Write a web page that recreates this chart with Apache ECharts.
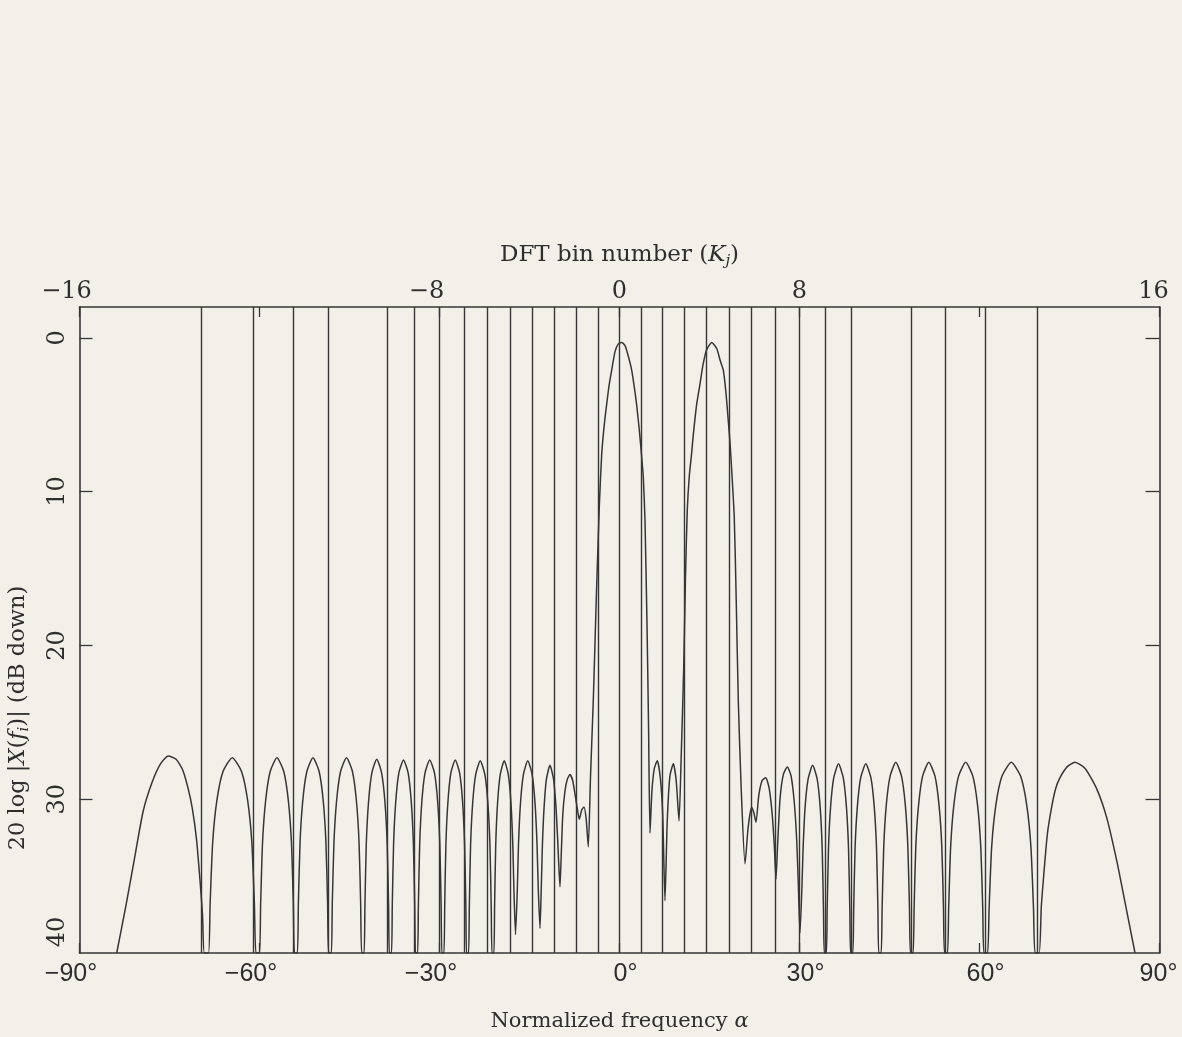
<!DOCTYPE html>
<html>
<head>
<meta charset="utf-8">
<title>DFT bin response</title>
<script src="https://cdn.jsdelivr.net/npm/echarts@6/dist/echarts.min.js"></script>
<style>
  html, body { margin: 0; padding: 0; background: #f3f0ea; }
  #chart { width: 1182px; height: 1037px; }
</style>
</head>
<body>
<div id="chart"></div>
<script>
// DFT bins drawn as vertical lines (bins 11 and -11 are not drawn in the figure)
var binNumbers = [-15, -14, -13, -12, -10, -9, -8, -7, -6, -5, -4, -3, -2, -1, 0,
  1, 2, 3, 4, 5, 6, 7, 8, 9, 10, 12, 13, 14, 15]
var binLabels = [-16, -8, 0, 8, 16]
var angleTicks = [-90, -60, -30, 0, 30, 60, 90]
var levelLabels = [0, 10, 20, 30, 40]
var levelTicks = [0, 10, 20, 30]

// response curve: angle (deg) and level (dB down)
var curveAngle = [
  -83.8, -82.3, -80.9, -79.4, -77.9, -76.5, -75.2, -73.9, -72.8, -71.9, -71.2, -70.5, -69.85, -69.5, -69.2,
  -68.49, -68.23, -67.80, -67.11, -66.08, -64.54, -63.00, -61.97, -61.28, -60.85, -60.59,
  -60.00, -59.81, -59.49, -58.98, -58.22, -57.09, -55.95, -55.19, -54.68, -54.36, -54.17,
  -53.69, -53.52, -53.24, -52.79, -52.11, -51.09, -50.06, -49.38, -48.93, -48.65, -48.48,
  -48.03, -47.87, -47.59, -47.15, -46.49, -45.50, -44.51, -43.85, -43.41, -43.14, -42.97,
  -42.57, -42.43, -42.20, -41.83, -41.28, -40.46, -39.64, -39.09, -38.72, -38.49, -38.35,
  -38.00, -37.87, -37.65, -37.30, -36.78, -36.00, -35.22, -34.70, -34.35, -34.13, -34.00,
  -33.65, -33.52, -33.30, -32.95, -32.42, -31.63, -30.83, -30.30, -29.95, -29.73, -29.60,
  -29.26, -29.13, -28.93, -28.60, -28.11, -27.38, -26.64, -26.15, -25.82, -25.61, -25.49,
  -25.16, -25.03, -24.82, -24.48, -23.97, -23.21, -22.44, -21.93, -21.59, -21.38, -21.25,
  -20.93, -20.82, -20.63, -20.33, -19.88, -19.21, -18.53, -18.08, -17.78, -17.59, -17.33,
  -17.04, -16.84, -16.51, -16.02, -15.29, -14.56, -14.07, -13.74, -13.54, -13.25,
  -13.02, -12.85, -12.58, -12.18, -11.59, -10.99, -10.59, -10.32, -10.15, -9.92,
  -9.70, -9.45, -9.10, -8.70, -8.25, -7.80, -7.40, -7.00, -6.70, -6.30, -5.92, -5.55, -5.20,
  -4.83, -4.37, -3.87, -3.37, -2.97, -2.55, -2.13, -1.70, -1.30, -0.75, -0.20, 0.37, 0.90, 1.40,
  2.03, 2.50, 2.87, 3.30, 3.71, 3.97, 4.25, 4.60, 4.85, 5.08,
  5.40, 5.80, 6.30, 6.80, 7.20, 7.58, 7.95, 8.40, 8.97, 9.45, 9.92,
  10.30, 10.70, 11.00, 11.30, 11.63, 12.00, 12.30, 12.87, 13.42, 13.90, 14.50, 15.37, 16.20, 16.80,
  17.30, 17.75, 18.13, 18.45, 18.70, 19.13, 19.45, 19.80, 20.30, 20.92,
  21.45, 22.03, 22.40, 22.75, 23.20, 23.75, 24.37, 24.95, 25.45, 25.80, 26.08,
  26.35, 26.75, 27.30, 27.97, 28.60, 29.15, 29.55, 29.80, 30.08,
  30.38, 30.59, 30.92, 31.43, 32.19, 32.95, 33.46, 33.79, 34.00, 34.13,
  34.48, 34.61, 34.83, 35.18, 35.71, 36.50, 37.29, 37.82, 38.17, 38.39, 38.52,
  38.89, 39.03, 39.26, 39.64, 40.20, 41.05, 41.90, 42.46, 42.84, 43.07, 43.21,
  43.61, 43.77, 44.04, 44.46, 45.10, 46.05, 47.00, 47.64, 48.06, 48.33, 48.49,
  48.93, 49.10, 49.38, 49.84, 50.52, 51.55, 52.58, 53.26, 53.72, 54.00, 54.17,
  54.66, 54.86, 55.19, 55.72, 56.51, 57.70, 58.89, 59.68, 60.21, 60.54, 60.74,
  61.34, 61.60, 62.03, 62.72, 63.75, 65.30, 66.85, 67.88, 68.57, 69.00, 69.26,
  69.95, 70.30, 70.63, 71.30, 72.03, 72.70, 73.42, 74.60, 75.90, 77.60, 79.50, 81.20, 82.87, 84.40, 85.92
]
var curveLevel = [
  40, 37.0, 34.0, 30.8, 28.9, 27.7, 27.2, 27.4, 28.1, 29.3, 30.6, 32.6, 35.6, 37.5, 40,
  40, 36.8, 32.8, 30.1, 28.2, 27.3, 28.2, 30.1, 32.8, 36.8, 40,
  40, 36.8, 32.8, 30.1, 28.2, 27.3, 28.2, 30.1, 32.8, 36.8, 40,
  40, 36.8, 32.8, 30.1, 28.2, 27.3, 28.2, 30.1, 32.8, 36.8, 40,
  40, 36.8, 32.8, 30.1, 28.2, 27.3, 28.2, 30.1, 32.8, 36.8, 40,
  40, 36.9, 32.9, 30.2, 28.3, 27.4, 28.3, 30.2, 32.9, 36.9, 40,
  40, 36.9, 32.9, 30.2, 28.3, 27.45, 28.3, 30.2, 32.9, 36.9, 40,
  40, 36.9, 32.9, 30.2, 28.3, 27.45, 28.3, 30.2, 32.9, 36.9, 40,
  40, 36.9, 32.9, 30.2, 28.3, 27.45, 28.3, 30.2, 32.9, 36.9, 40,
  40, 37.0, 33.0, 30.3, 28.4, 27.5, 28.4, 30.3, 33.0, 37.0, 40,
  40, 37.0, 33.0, 30.3, 28.4, 27.5, 28.4, 30.3, 33.0, 36.0, 38.8,
  36.0, 33.0, 30.3, 28.4, 27.5, 28.4, 30.3, 33.0, 35.8, 38.4,
  35.5, 33.0, 30.6, 28.7, 27.8, 28.7, 30.5, 32.5, 34.0, 35.7,
  33.5, 31.0, 29.5, 28.7, 28.4, 28.8, 29.7, 30.7, 31.3, 30.7, 30.5, 31.3, 33.1,
  28.5, 23.6, 17.0, 11.0, 7.6, 5.7, 4.3, 3.0, 2.1, 0.9, 0.4, 0.3, 0.5, 1.1,
  2.1, 3.3, 4.4, 6.0, 7.8, 9.1, 11.9, 19.0, 25.5, 32.2,
  29.5, 28.0, 27.5, 28.6, 31.0, 36.6, 31.5, 28.5, 27.7, 28.8, 31.4,
  27.0, 21.5, 15.5, 11.2, 9.0, 7.6, 6.3, 4.3, 3.0, 1.8, 0.8, 0.3, 0.7, 1.5,
  2.1, 3.6, 5.4, 7.0, 8.6, 11.7, 17.0, 23.6, 29.5, 34.2,
  31.8, 30.5, 30.9, 31.5, 29.8, 28.8, 28.6, 29.3, 31.0, 33.0, 35.2,
  33.0, 30.0, 28.4, 27.9, 28.5, 30.3, 32.8, 35.5, 38.7,
  36.0, 33.3, 30.6, 28.7, 27.8, 28.7, 30.6, 33.3, 37.3, 40,
  40, 37.2, 33.2, 30.5, 28.6, 27.7, 28.6, 30.5, 33.2, 37.2, 40,
  40, 37.2, 33.2, 30.5, 28.6, 27.7, 28.6, 30.5, 33.2, 37.2, 40,
  40, 37.1, 33.1, 30.4, 28.5, 27.6, 28.5, 30.4, 33.1, 37.1, 40,
  40, 37.1, 33.1, 30.4, 28.5, 27.6, 28.5, 30.4, 33.1, 37.1, 40,
  40, 37.1, 33.1, 30.4, 28.5, 27.6, 28.5, 30.4, 33.1, 37.1, 40,
  40, 37.1, 33.1, 30.4, 28.5, 27.6, 28.5, 30.4, 33.1, 37.1, 40,
  40, 37.0, 35.3, 32.3, 30.5, 29.3, 28.6, 27.9, 27.6, 28.0, 29.3, 31.2, 34.0, 37.0, 40
]

// bin k sits where sin(alpha) = k / 16
function binToAngle(k) {
  return Math.asin(k / 16) * 180 / Math.PI
}

var ink = '#363636'
var textInk = '#2e2e2e'
var serif = 'DejaVu Serif'
var sans = 'Liberation Sans'

var chart = echarts.init(document.getElementById('chart'))

chart.setOption({
  backgroundColor: '#f3f0ea',
  animation: false,
  grid: { left: 79.5, right: 22.5, top: 307, bottom: 84, containLabel: false, outerBoundsMode: 'none' },
  xAxis: [
    {
      type: 'value',
      min: -90,
      max: 90,
      interval: 30,
      axisLine: { onZero: false, lineStyle: { color: ink, width: 1.6 } },
      axisTick: { inside: true, length: 10, lineStyle: { color: ink, width: 1.3 } },
      splitLine: { show: false },
      axisLabel: {
        margin: 9,
        color: textInk,
        fontFamily: sans,
        fontSize: 25,
        formatter: function(v) {
          // digits sit centred on the tick, the minus and degree sign hang outside
          if (v < 0) return '{n|−' + Math.abs(v) + '°}'
          if (v === 90) return '{e|' + v + '°}'
          return '{p|' + v + '°}'
        },
        rich: {
          n: { fontFamily: sans, fontSize: 25, color: textInk, padding: [0, 17, 0, 0] },
          p: { fontFamily: sans, fontSize: 25, color: textInk, padding: [0, 0, 0, 12] },
          e: { fontFamily: sans, fontSize: 25, color: textInk, padding: [0, 2, 0, 0] }
        }
      },
      name: 'Normalized frequency {i|α}',
      nameLocation: 'middle',
      nameGap: 58,
      nameTextStyle: {
        fontFamily: serif,
        fontSize: 21,
        color: textInk,
        rich: { i: { fontFamily: serif, fontSize: 21, fontStyle: 'italic', color: textInk } }
      }
    },
    {
      type: 'value',
      position: 'top',
      min: -90,
      max: 90,
      axisLine: { onZero: false, lineStyle: { color: ink, width: 1.6 } },
      axisTick: {
        inside: true,
        length: 10,
        customValues: angleTicks,
        lineStyle: { color: ink, width: 1.3 }
      },
      splitLine: { show: false },
      axisLabel: {
        customValues: binLabels.map(binToAngle),
        margin: 3,
        color: textInk,
        fontFamily: serif,
        fontSize: 24,
        formatter: function(v) {
          var k = Math.round(16 * Math.sin(v * Math.PI / 180))
          if (k < 0) return '{n|−' + Math.abs(k) + '}'
          if (k === 16) return '{e|' + k + '}'
          return '{p|' + k + '}'
        },
        rich: {
          n: { fontFamily: serif, fontSize: 24, color: textInk, padding: [0, 26, 0, 0] },
          p: { fontFamily: serif, fontSize: 24, color: textInk },
          e: { fontFamily: serif, fontSize: 24, color: textInk, padding: [0, 12, 0, 0] }
        }
      },
      name: 'DFT bin number ({i|K}{s|j})',
      nameLocation: 'middle',
      nameGap: 38,
      nameTextStyle: {
        fontFamily: serif,
        fontSize: 23,
        color: textInk,
        rich: {
          i: { fontFamily: serif, fontSize: 23, fontStyle: 'italic', color: textInk },
          s: { fontFamily: serif, fontSize: 15, fontStyle: 'italic', color: textInk, padding: [12, 0, 0, 0] }
        }
      }
    }
  ],
  yAxis: [
    {
      type: 'value',
      inverse: true,
      min: -2,
      max: 40,
      axisLine: { onZero: false, lineStyle: { color: ink, width: 1.6 } },
      axisTick: {
        inside: true,
        length: 13,
        customValues: levelTicks,
        lineStyle: { color: ink, width: 1.3 }
      },
      splitLine: { show: false },
      axisLabel: {
        customValues: levelLabels,
        rotate: 90,
        margin: 10,
        color: textInk,
        fontFamily: serif,
        fontSize: 24,
        formatter: function(v) {
          // the bottom label is lifted clear of the -90° label
          return v === 40 ? '{b|40}' : '' + v
        },
        rich: {
          b: { fontFamily: serif, fontSize: 24, color: textInk, padding: [0, 0, 0, 42] }
        }
      },
      name: '20 log |{i|X}({i|f}{s|i})| (dB down)',
      nameLocation: 'middle',
      nameRotate: 90,
      nameGap: 48,
      nameTextStyle: {
        fontFamily: serif,
        fontSize: 22.5,
        color: textInk,
        padding: [0, 176, 0, 0],
        rich: {
          i: { fontFamily: serif, fontSize: 22.5, fontStyle: 'italic', color: textInk },
          s: { fontFamily: serif, fontSize: 15, fontStyle: 'italic', color: textInk, padding: [12, 0, 0, 0] }
        }
      }
    },
    {
      type: 'value',
      position: 'right',
      inverse: true,
      min: -2,
      max: 40,
      axisLine: { onZero: false, lineStyle: { color: ink, width: 1.6 } },
      axisTick: {
        inside: true,
        length: 14,
        customValues: levelTicks,
        lineStyle: { color: ink, width: 1.3 }
      },
      axisLabel: { show: false },
      splitLine: { show: false }
    }
  ],
  series: [
    {
      type: 'line',
      xAxisIndex: 0,
      yAxisIndex: 0,
      data: curveAngle.map(function(a, i) { return [a, curveLevel[i]] }),
      showSymbol: false,
      smooth: 0.2,
      clip: true,
      lineStyle: { color: ink, width: 1.5 },
      markLine: {
        silent: true,
        symbol: 'none',
        label: { show: false },
        lineStyle: { type: 'solid', color: ink, width: 1.4 },
        data: binNumbers.map(function(k) { return { xAxis: binToAngle(k) } })
      }
    }
  ]
})
</script>
</body>
</html>
